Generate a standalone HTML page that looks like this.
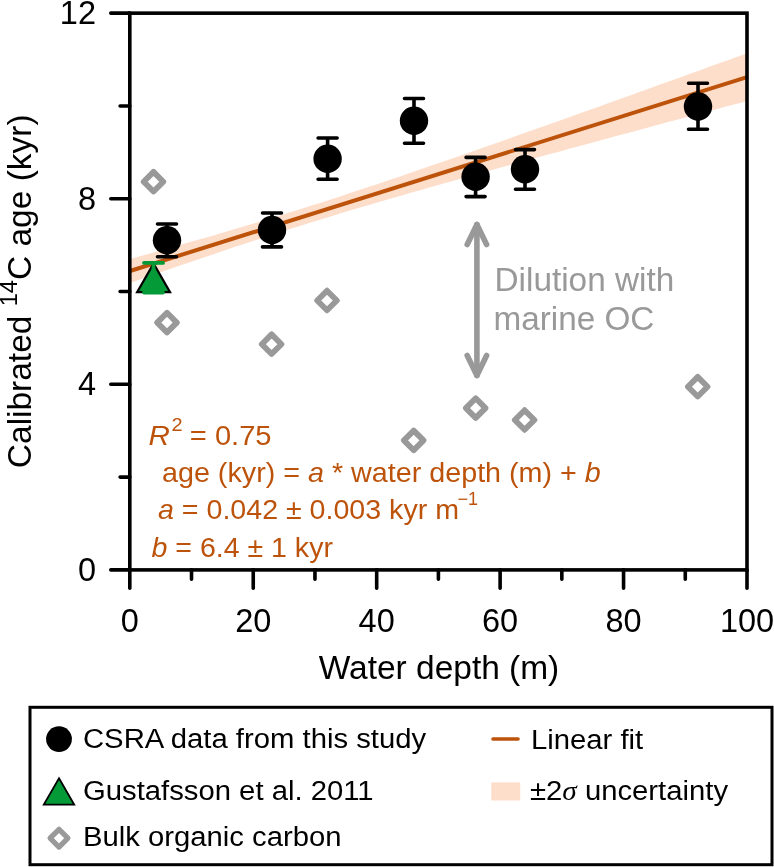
<!DOCTYPE html>
<html><head><meta charset="utf-8">
<style>
html,body{margin:0;padding:0;background:#fff;width:774px;height:867px;overflow:hidden}
svg{display:block;will-change:transform}
text{font-family:"Liberation Sans",sans-serif}
</style></head>
<body>
<svg width="774" height="867" viewBox="0 0 774 867">
<rect width="774" height="867" fill="#fff"/>
<polygon fill="#fddecb" points="130.0,259.1 140.0,256.3 150.0,253.5 160.0,250.7 170.0,247.8 180.0,245.0 190.0,242.1 200.0,239.3 210.0,236.4 220.0,233.4 230.0,230.5 240.0,227.5 250.0,224.6 260.0,221.6 270.0,218.5 280.0,215.4 290.0,212.3 300.0,209.2 310.0,206.1 320.0,202.9 330.0,199.7 340.0,196.4 350.0,193.1 360.0,189.8 370.0,186.5 380.0,183.2 390.0,179.8 400.0,176.4 410.0,173.0 420.0,169.6 430.0,166.1 440.0,162.7 450.0,159.2 460.0,155.7 470.0,152.2 480.0,148.7 490.0,145.2 500.0,141.7 510.0,138.2 520.0,134.6 530.0,131.1 540.0,127.5 550.0,124.0 560.0,120.4 570.0,116.9 580.0,113.3 590.0,109.7 600.0,106.2 610.0,102.6 620.0,99.0 630.0,95.4 640.0,91.8 650.0,88.2 660.0,84.6 670.0,81.0 680.0,77.4 690.0,73.8 700.0,70.2 710.0,66.6 720.0,63.0 730.0,59.4 740.0,55.8 747.0,53.3 747.0,101.0 740.0,102.9 730.0,105.6 720.0,108.2 710.0,110.9 700.0,113.6 690.0,116.3 680.0,119.0 670.0,121.6 660.0,124.3 650.0,127.0 640.0,129.7 630.0,132.4 620.0,135.1 610.0,137.8 600.0,140.5 590.0,143.2 580.0,145.9 570.0,148.6 560.0,151.4 550.0,154.1 540.0,156.8 530.0,159.5 520.0,162.3 510.0,165.0 500.0,167.8 490.0,170.5 480.0,173.3 470.0,176.1 460.0,178.9 450.0,181.7 440.0,184.5 430.0,187.3 420.0,190.2 410.0,193.0 400.0,195.9 390.0,198.8 380.0,201.7 370.0,204.7 360.0,207.6 350.0,210.6 340.0,213.6 330.0,216.7 320.0,219.7 310.0,222.8 300.0,226.0 290.0,229.1 280.0,232.3 270.0,235.5 260.0,238.8 250.0,242.0 240.0,245.3 230.0,248.6 220.0,252.0 210.0,255.4 200.0,258.8 190.0,262.2 180.0,265.6 170.0,269.0 160.0,272.5 150.0,276.0 140.0,279.4 130.0,282.9"/>
<line x1="130" y1="271.00" x2="747" y2="77.14" stroke="#bd530b" stroke-width="4"/>
<g fill="none" stroke="#999999" stroke-width="5.8" stroke-linejoin="round">
<path d="M153.5,171.90 L163.30,181.7 L153.5,191.50 L143.70,181.7 Z"/>
<path d="M167,312.80 L176.80,322.6 L167,332.40 L157.20,322.6 Z"/>
<path d="M271.6,334.40 L281.40,344.2 L271.6,354.00 L261.80,344.2 Z"/>
<path d="M327,290.70 L336.80,300.5 L327,310.30 L317.20,300.5 Z"/>
<path d="M413.7,430.60 L423.50,440.4 L413.7,450.20 L403.90,440.4 Z"/>
<path d="M475.7,398.30 L485.50,408.1 L475.7,417.90 L465.90,408.1 Z"/>
<path d="M524.6,410.20 L534.40,420 L524.6,429.80 L514.80,420 Z"/>
<path d="M697.7,376.90 L707.50,386.7 L697.7,396.50 L687.90,386.7 Z"/>
</g>
<polygon points="153.6,263.5 170.05,292.2 137.15,292.2" fill="#059a38" stroke="#000" stroke-width="2.2" stroke-linejoin="miter"/>
<path d="M153.5,262.9 V292.5 M144.0,262.9 H163.0 M144.0,292.5 H163.0" stroke="#059a38" stroke-width="3.8" stroke-linecap="round" fill="none"/>
<g stroke="#000" stroke-width="3.6" stroke-linecap="round" fill="none">
<path d="M167,224 V256.8 M157.5,224 H176.5 M157.5,256.8 H176.5"/>
<path d="M272,213 V246.9 M262.5,213 H281.5 M262.5,246.9 H281.5"/>
<path d="M327.6,138 V179.2 M318.1,138 H337.1 M318.1,179.2 H337.1"/>
<path d="M414,98.5 V143.3 M404.5,98.5 H423.5 M404.5,143.3 H423.5"/>
<path d="M475.6,157.4 V196.6 M466.1,157.4 H485.1 M466.1,196.6 H485.1"/>
<path d="M525,149.6 V189.2 M515.5,149.6 H534.5 M515.5,189.2 H534.5"/>
<path d="M698,83.3 V129.3 M688.5,83.3 H707.5 M688.5,129.3 H707.5"/>
</g><g fill="#000">
<circle cx="167" cy="240.3" r="14.2"/>
<circle cx="272" cy="230" r="14.2"/>
<circle cx="327.6" cy="158.7" r="14.2"/>
<circle cx="414" cy="120.8" r="14.2"/>
<circle cx="475.6" cy="176.8" r="14.2"/>
<circle cx="525" cy="169.2" r="14.2"/>
<circle cx="698" cy="106.5" r="14.2"/>
</g>
<g fill="none" stroke="#999999" stroke-width="5.6" stroke-linecap="round" stroke-linejoin="round">
<path d="M476.9,224.5 V375.5"/>
<path d="M467.2,244.5 L476.9,224.5 L486.59999999999997,244.5"/>
<path d="M467.2,355.5 L476.9,375.5 L486.59999999999997,355.5"/>
</g>
<g fill="#999999">
<g transform="matrix(1.0170,0,0,1,-8.406,0)"><text x="494.5" y="291.4" font-size="32.8" text-anchor="start" >Dilution with</text></g>
<g transform="matrix(1.0150,0,0,1,-7.402,0)"><text x="493.5" y="330" font-size="32.8" text-anchor="start" >marine OC</text></g>
</g>
<g fill="#bd530b">
<g transform="matrix(1.0400,0,0,1,-5.940,0)"><text x="148.5" y="444.9" font-size="28.5" text-anchor="start" ><tspan font-style="italic">R</tspan></text></g>
<g transform="matrix(1.0800,0,0,1,-13.728,0)"><text x="171.6" y="431.1" font-size="18.5" text-anchor="start" >2</text></g>
<g transform="matrix(1.0590,0,0,1,-11.198,0)"><text x="189.8" y="444.9" font-size="27.5" text-anchor="start" >= 0.75</text></g>
<g transform="matrix(1.0440,0,0,1,-7.128,0)"><text x="162" y="482" font-size="27.5" text-anchor="start" >age (kyr) = <tspan font-style="italic">a</tspan> * water depth (m) + <tspan font-style="italic">b</tspan></text></g>
<g transform="matrix(1.0400,0,0,1,-6.320,0)"><text x="158" y="519" font-size="27.5" text-anchor="start" ><tspan font-style="italic">a</tspan> = 0.042 ± 0.003 kyr m</text></g>
<text x="457.5" y="504.7" font-size="18" text-anchor="start" >−1</text>
<g transform="matrix(1.0380,0,0,1,-5.757,0)"><text x="151.5" y="557" font-size="27.5" text-anchor="start" ><tspan font-style="italic">b</tspan> = 6.4 ± 1 kyr</text></g>
</g>
<rect x="129.8" y="13.15" width="617.20" height="556.75" fill="none" stroke="#000" stroke-width="3.6"/>
<path d="M110.8,569.90 H129.8 M110.8,384.32 H129.8 M110.8,198.73 H129.8 M110.8,13.15 H129.8 M120.1,477.11 H129.8 M120.1,291.52 H129.8 M120.1,105.94 H129.8 M129.80,569.9 V588.2 M253.24,569.9 V588.2 M376.68,569.9 V588.2 M500.12,569.9 V588.2 M623.56,569.9 V588.2 M747.00,569.9 V588.2 M191.52,569.9 V579.2 M314.96,569.9 V579.2 M438.40,569.9 V579.2 M561.84,569.9 V579.2 M685.28,569.9 V579.2" stroke="#000" stroke-width="3.6" stroke-linecap="round" fill="none"/>
<g font-size="32.5" fill="#000">
<text x="96" y="580.70" text-anchor="end">0</text>
<text x="96" y="395.12" text-anchor="end">4</text>
<text x="96" y="209.53" text-anchor="end">8</text>
<text x="96" y="23.95" text-anchor="end">12</text>
<text x="129.80" y="631.5" text-anchor="middle">0</text>
<text x="253.24" y="631.5" text-anchor="middle">20</text>
<text x="376.68" y="631.5" text-anchor="middle">40</text>
<text x="500.12" y="631.5" text-anchor="middle">60</text>
<text x="623.56" y="631.5" text-anchor="middle">80</text>
<text x="747.00" y="631.5" text-anchor="middle">100</text>
</g>
<g transform="matrix(1.0210,0,0,1,-9.219,0)"><text x="439" y="678.9" font-size="32.8" text-anchor="middle" >Water depth (m)</text></g>
<g transform="translate(31,291.3) rotate(-90) scale(1.03,1)"><text x="0" y="0" font-size="32.5" text-anchor="middle">Calibrated <tspan font-size="23" dy="-14.3">14</tspan><tspan dy="14.3">C age (kyr)</tspan></text></g>
<rect x="30" y="707.3" width="742.00" height="157.40" fill="#fff" stroke="#000" stroke-width="3"/>
<circle cx="59" cy="739.1" r="12.9" fill="#000"/>
<polygon points="59,778.2 74.2,804.6 43.8,804.6" fill="#059a38" stroke="#000" stroke-width="1.8"/>
<path d="M59,829.3000000000001 L67.9,838.2 L59,847.1 L50.1,838.2 Z" fill="none" stroke="#999999" stroke-width="5.2" stroke-linejoin="round"/>
<line x1="493" y1="739" x2="518" y2="739" stroke="#bd530b" stroke-width="3.6" stroke-linecap="round"/>
<rect x="491.2" y="782.4" width="29" height="18.1" fill="#fddecb"/>
<g fill="#000">
<g transform="matrix(1.0530,0,0,1,-4.399,0)"><text x="83" y="748.1" font-size="27.8" text-anchor="start" >CSRA data from this study</text></g>
<g transform="matrix(1.0530,0,0,1,-4.399,0)"><text x="83" y="800.3" font-size="27.8" text-anchor="start" >Gustafsson et al. 2011</text></g>
<g transform="matrix(1.0530,0,0,1,-4.399,0)"><text x="83" y="846.5" font-size="27.8" text-anchor="start" >Bulk organic carbon</text></g>
<g transform="matrix(1.0530,0,0,1,-28.143,0)"><text x="531" y="748.7" font-size="27.8" text-anchor="start" >Linear fit</text></g>
<g transform="matrix(1.0530,0,0,1,-28.090,0)"><text x="530" y="799.6" font-size="27.8" text-anchor="start" >±2<tspan font-family="Liberation Serif" font-style="italic">σ</tspan> uncertainty</text></g>
</g>
</svg>
</body></html>
